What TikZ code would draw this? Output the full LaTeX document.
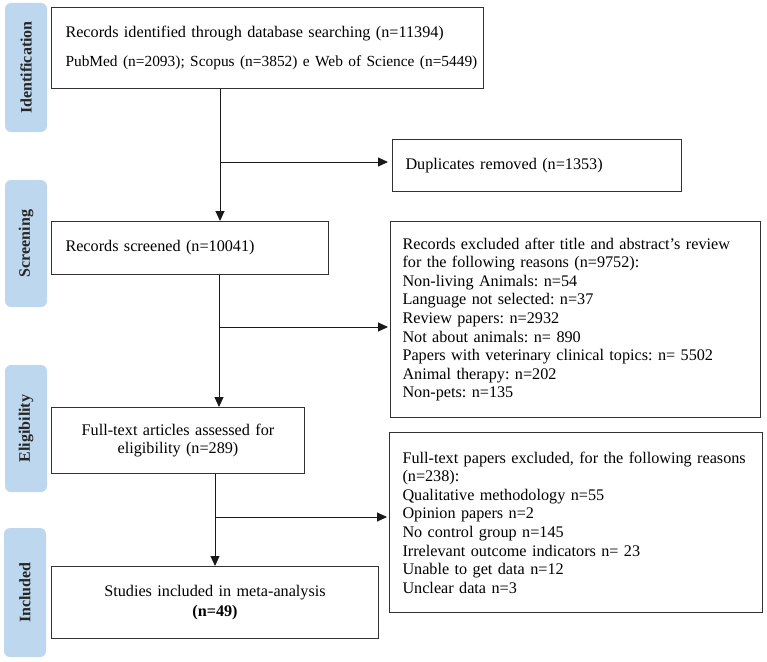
\documentclass[tikz,border=0pt]{standalone}
\usepackage{fontspec}
\setmainfont{Liberation Serif}
\usetikzlibrary{arrows.meta,calc}
\definecolor{phasefill}{RGB}{189,215,238}
\definecolor{linecol}{RGB}{50,50,50}
\frenchspacing
\begin{document}
\begin{tikzpicture}[x=1pt,y=-1pt,
  phase/.style={fill=phasefill, rounded corners=6pt, draw=none, rotate=90,
    font=\fontsize{16}{18}\selectfont\bfseries, text=black!85, inner sep=0pt,
    minimum height=42pt},
  box/.style={draw=linecol, line width=1pt, fill=white, inner ysep=0pt,
    anchor=north west, font=\fontsize{16.2}{18.6}\selectfont},
  arr/.style={draw=black!90, line width=1pt, -{Triangle[length=10pt,width=9pt]}}
]
\useasboundingbox (0,0) rectangle (767,661);

% phase labels
\node[phase, minimum width=129pt] (pid) at (26,67.5) {Identification};
\node[phase, minimum width=127pt] (psc) at (26,243.5) {Screening};
\node[phase, minimum width=127pt] (pel) at (26,428.5) {Eligibility};
\node[phase, minimum width=129pt] (pin) at (25,592.5) {Included};

% boxes
\node[box, inner xsep=14pt, text width=404pt, minimum height=81pt, align=left] (b1) at (51,7)
  {Records identified through database searching (n=11394)\\[10.5pt]
   \mbox{\fontsize{15.4}{18.6}\selectfont PubMed (n=2093); Scopus (n=3852) e Web of Science (n=5449)}};
\node[box, inner xsep=13pt, text width=263pt, minimum height=52pt, align=left] (dup) at (392,139)
  {Duplicates removed (n=1353)};
\node[box, inner xsep=14pt, text width=249pt, minimum height=53pt, align=left] (b2) at (51,221)
  {Records screened (n=10041)};
\node[box, inner xsep=12pt, text width=346pt, minimum height=196pt, align=left] (ex1) at (390,221)
  {Records excluded after title and abstract’s review\\
   for the following reasons (n=9752):\\
   Non-living Animals: n=54\\
   Language not selected: n=37\\
   Review papers: n=2932\\
   Not about animals: n= 890\\
   Papers with veterinary clinical topics: n= 5502\\
   Animal therapy: n=202\\
   Non-pets: n=135};
\node[box, inner xsep=8pt, text width=237pt, minimum height=66pt, align=center] (b3) at (51,407)
  {Full-text articles assessed for\\ eligibility (n=289)};
\node[box, inner xsep=13pt, text width=347pt, minimum height=180pt, align=left] (ex2) at (389,432)
  {Full-text papers excluded, for the following reasons\\
   (n=238):\\
   Qualitative methodology n=55\\
   Opinion papers n=2\\
   No control group n=145\\
   Irrelevant outcome indicators n= 23\\
   Unable to get data n=12\\
   Unclear data n=3};
\node[box, inner xsep=8pt, text width=311pt, minimum height=72pt, align=center] (b4) at (51,566)
  {Studies included in meta-analysis\\[1.5pt] \textbf{(n=49)}};

% connectors
\coordinate (s1) at (220,0);
\coordinate (s2) at (219,0);
\coordinate (s3) at (215,0);
\coordinate (j1) at (220,162);
\coordinate (j2) at (219,327);
\coordinate (j3) at (215,517);

\draw[arr] (b1.south -| s1) -- (b2.north -| s1);
\draw[arr, shorten >=4pt] (j1) -- (dup.west |- j1);
\draw[arr] (b2.south -| s2) -- (b3.north -| s2);
\draw[arr, shorten >=2pt] (j2) -- (ex1.west |- j2);
\draw[arr] (b3.south -| s3) -- (b4.north -| s3);
\draw[arr, shorten >=2pt] (j3) -- (ex2.west |- j3);
\end{tikzpicture}
\end{document}
